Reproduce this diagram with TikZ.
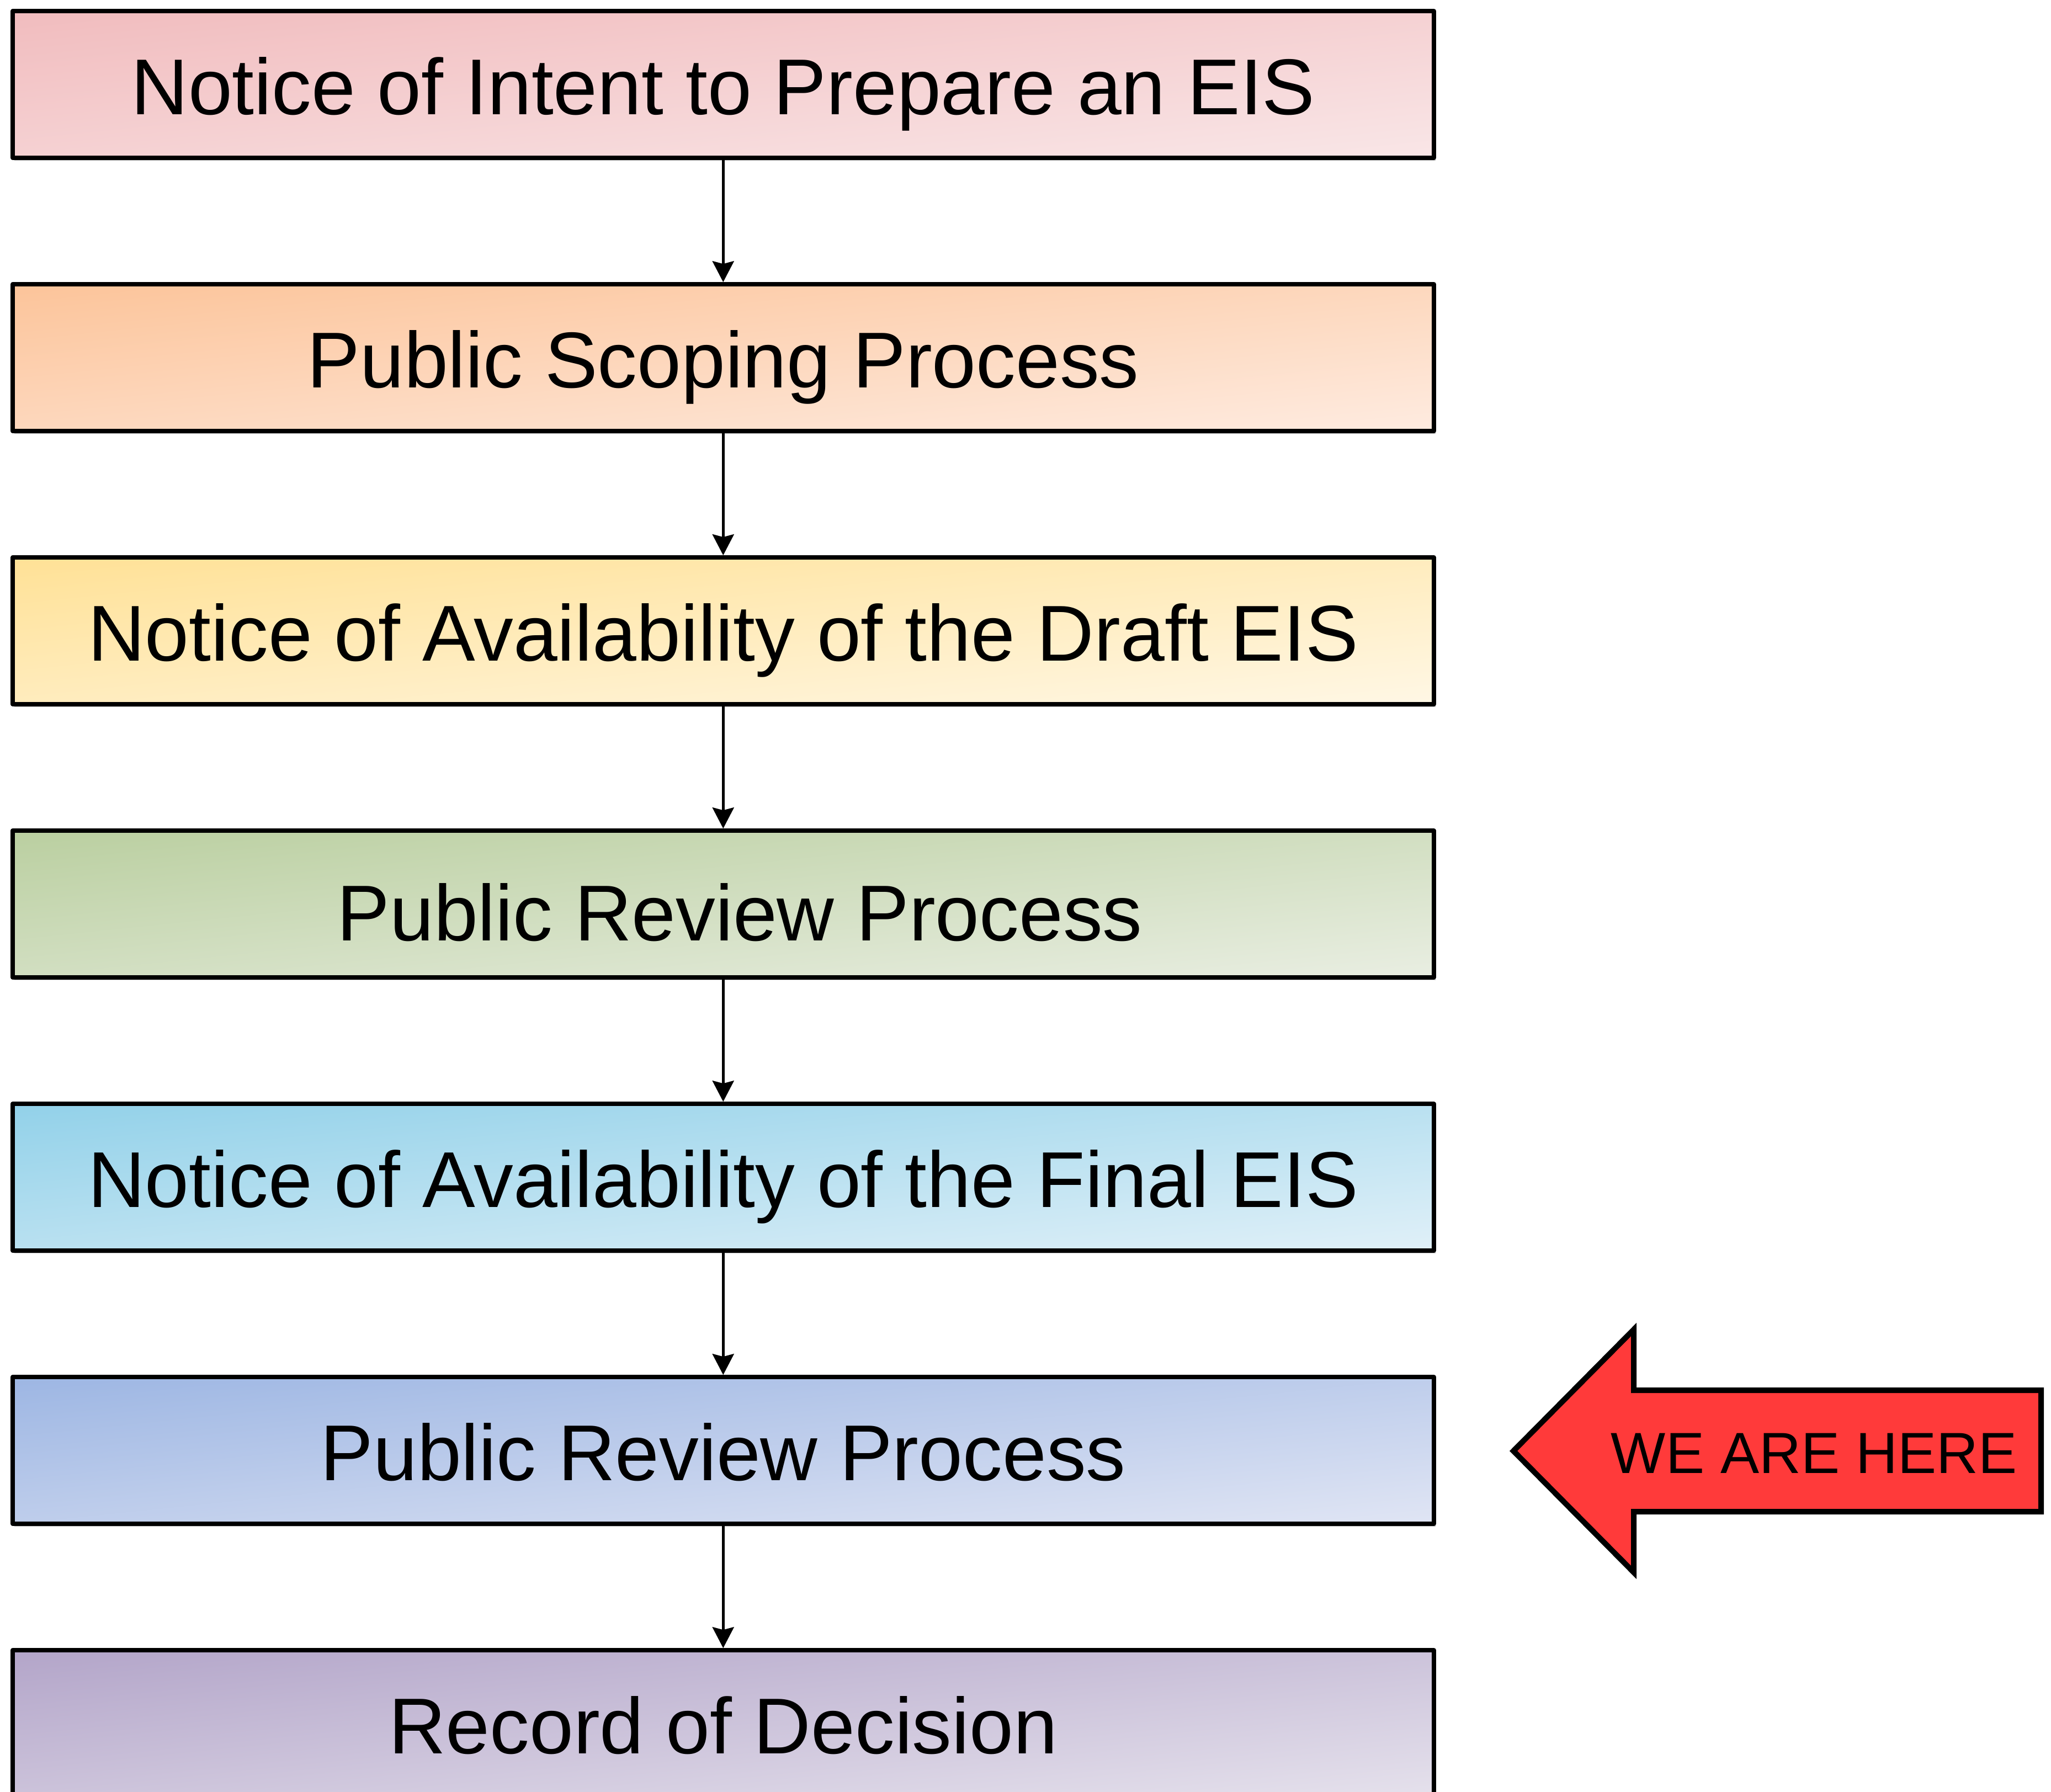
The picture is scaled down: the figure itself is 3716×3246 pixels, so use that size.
\documentclass[tikz,border=0pt]{standalone}
\usepackage{fontspec}
\setmainfont{Liberation Sans}
\usetikzlibrary{arrows.meta,shadows,shadings}
\definecolor{c1a}{HTML}{F1BCBE}\definecolor{c1b}{HTML}{F9E6E7}
\definecolor{c2a}{HTML}{FCC49A}\definecolor{c2b}{HTML}{FEEBE0}
\definecolor{c3a}{HTML}{FFE196}\definecolor{c3b}{HTML}{FFF7E5}
\definecolor{c4a}{HTML}{BACFA0}\definecolor{c4b}{HTML}{E9EEE2}
\definecolor{c5a}{HTML}{92D1E9}\definecolor{c5b}{HTML}{E0F0F8}
\definecolor{c6a}{HTML}{9DB6E3}\definecolor{c6b}{HTML}{E0E5F4}
\definecolor{c7a}{HTML}{B3A5C9}\definecolor{c7b}{HTML}{E5E1EC}
\definecolor{arrowred}{RGB}{255,58,58}
\begin{document}
\begin{tikzpicture}[x=0.01cm,y=-0.01cm,
  stage/.style={draw=black, line width=0.075cm, line join=round,
    minimum width=25.735cm, minimum height=2.66cm, inner sep=0pt,
    font=\fontsize{40.8}{48}\selectfont, text height=1.087cm, text depth=0pt,
    drop shadow={shadow xshift=0.035cm, shadow yshift=-0.045cm, opacity=0.25, fill=black}},
  grad/.style n args={2}{shade, upper left=#1, lower right=#2,
    upper right=#1!50!#2, lower left=#1!50!#2},
  flow/.style={line width=0.045cm, -{Stealth[length=0.38cm,width=0.39cm,inset=0.05cm]}},
  bigarrow/.style={draw=black, line width=0.1cm, fill=arrowred, line join=miter},
  herelabel/.style={font=\fontsize{29.9}{36}\selectfont, inner sep=0pt}
]
\useasboundingbox (0,0) rectangle (3716,3246);
\node[stage, grad={c1a}{c1b}] (n1) at (1310.25,153)  {Notice of Intent to Prepare an EIS};
\node[stage, grad={c2a}{c2b}] (n2) at (1310.25,648)  {Public Scoping Process};
\node[stage, grad={c3a}{c3b}] (n3) at (1310.25,1143) {Notice of Availability of the Draft EIS};
\node[stage, grad={c4a}{c4b}, text height=1.327cm] (n4) at (1310.25,1638) {\hspace*{0.6cm}Public Review Process};
\node[stage, grad={c5a}{c5b}] (n5) at (1310.25,2133) {Notice of Availability of the Final EIS};
\node[stage, grad={c6a}{c6b}] (n6) at (1310.25,2628) {Public Review Process};
\node[stage, grad={c7a}{c7b}] (n7) at (1310.25,3123) {Record of Decision};
\draw[flow] (n1) -- (n2);
\draw[flow] (n2) -- (n3);
\draw[flow] (n3) -- (n4);
\draw[flow] (n4) -- (n5);
\draw[flow] (n5) -- (n6);
\draw[flow] (n6) -- (n7);
\draw[bigarrow] (2742,2629) -- (2960,2409) -- (2960,2519) -- (3698,2519)
  -- (3698,2739) -- (2960,2739) -- (2960,2849) -- cycle;
\node[herelabel] (here) at (3287,2633) {WE ARE HERE};
\end{tikzpicture}
\end{document}
